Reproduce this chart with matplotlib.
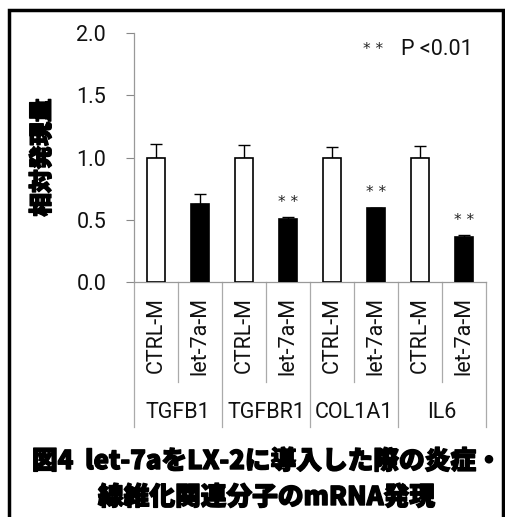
import matplotlib.pyplot as plt
import matplotlib.patheffects as pe
from matplotlib.patches import Rectangle
from matplotlib.transforms import blended_transform_factory

genes = ['TGFB1', 'TGFBR1', 'COL1A1', 'IL6']
groups = ['CTRL-M', 'let-7a-M']
ctrl_mean = [1.0, 1.0, 1.0, 1.0]
ctrl_err = [0.11, 0.10, 0.087, 0.095]
let7a_mean = [0.624, 0.506, 0.592, 0.359]
let7a_err = [0.085, 0.013, 0.005, 0.018]
significant = [False, True, True, True]

plt.rcParams['font.family'] = ['Roboto', 'DejaVu Sans']
plt.rcParams['font.weight'] = 'normal'
jp = ['Noto Sans CJK JP', 'DejaVu Sans']
heavy = [pe.withStroke(linewidth=1.0, foreground='black')]
ink = '#111111'
fs = 15.5

fig = plt.figure(figsize=(5.06, 5.17), dpi=100)
ax = fig.add_axes([134 / 506, 1 - 282 / 517, 352 / 506, 249 / 517])

x_ctrl = [2 * i for i in range(len(genes))]
x_let = [2 * i + 1 for i in range(len(genes))]
w = 0.4
ax.bar(x_ctrl, ctrl_mean, w, color='white', edgecolor='black', linewidth=1.2, zorder=3)
ax.bar(x_let, let7a_mean, w, color='black', edgecolor='black', linewidth=1.2, zorder=3)
ax.errorbar(x_ctrl, ctrl_mean, yerr=[[0] * 4, ctrl_err], fmt='none', ecolor='black',
            elinewidth=1, capsize=4.5, capthick=1, zorder=2)
ax.errorbar(x_let, let7a_mean, yerr=[[0] * 4, let7a_err], fmt='none', ecolor='black',
            elinewidth=1, capsize=4.5, capthick=1, zorder=2)

for xi, m, e, s in zip(x_let, let7a_mean, let7a_err, significant):
    if s:
        ax.text(xi, m + e + 0.06, '* *', ha='center', va='bottom', fontsize=11,
                family='DejaVu Sans', color='#222222')

ax.text(4.93, 1.87, '* *', ha='center', va='center', fontsize=11,
        family='DejaVu Sans', color='#222222')
ax.text(5.57, 1.87, 'P <0.01', ha='left', va='center', fontsize=fs, color=ink)

ax.set_xlim(-0.5, 7.5)
ax.set_ylim(0, 2.0)
ax.set_yticks([0, 0.5, 1.0, 1.5, 2.0])
ax.set_yticklabels(['0.0', '0.5', '1.0', '1.5', '2.0'])
ax.tick_params(axis='y', length=6, width=0.8, color='#888888', labelsize=fs,
               labelcolor=ink, pad=14)
ax.set_xticks([])
for side in ['top', 'right']:
    ax.spines[side].set_visible(False)
for side in ['left', 'bottom']:
    ax.spines[side].set_color('#999999')
    ax.spines[side].set_linewidth(0.9)

ax.set_ylabel('相対発現量', family=jp, fontweight='heavy', fontsize=17, labelpad=16,
              path_effects=heavy)

# category table under the x axis
trans = blended_transform_factory(ax.transData, ax.transAxes)
y_inner = -(382 - 282) / 249
y_outer = -(427 - 282) / 249
for b in range(9):
    xb = b - 0.5
    y_end = y_outer if b % 2 == 0 else y_inner
    ax.plot([xb, xb], [0, y_end], color='#aaaaaa', lw=0.9, transform=trans, clip_on=False)

y_lab = -(297 - 282) / 249
for i in range(len(genes)):
    for j, g in enumerate(groups):
        ax.text(2 * i + j, y_lab, g, rotation=90, ha='center', va='top', fontsize=fs,
                color=ink, transform=trans)
    ax.text(2 * i + 0.5, -(412 - 282) / 249, genes[i], ha='center', va='center',
            fontsize=fs, color=ink, transform=trans)

fig.text(32 / 506, 1 - 461 / 517, '図4  let-7aをLX-2に導入した際の炎症・', family=jp,
         fontweight='heavy', fontsize=18.5, ha='left', va='center', path_effects=heavy)
fig.text(98 / 506, 1 - 497 / 517, '線維化関連分子のmRNA発現', family=jp,
         fontweight='heavy', fontsize=18.5, ha='left', va='center', path_effects=heavy)

fig.patches.append(Rectangle((8.5 / 506, -0.05), 495 / 506, 1.05 - 9.5 / 517,
                             transform=fig.transFigure, fill=False, edgecolor='black',
                             linewidth=2.5))

fig.savefig('out.png', dpi=100)
